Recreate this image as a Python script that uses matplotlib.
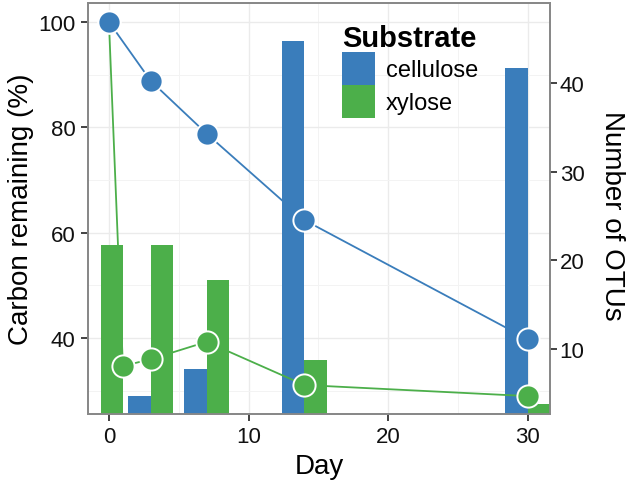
import matplotlib
matplotlib.use("Agg")
import matplotlib.pyplot as plt
from matplotlib.patches import Patch

plt.rcParams['font.family'] = ['Liberation Sans', 'DejaVu Sans']

BLUE = '#3a7dbb'
GREEN = '#4caf4a'

# --- carbon remaining (%), left axis
cell_days = [0, 3, 7, 14, 30]
cell_carbon = [100, 88.8, 78.8, 62.4, 39.8]
xyl_days = [0, 1, 3, 7, 14, 30]
xyl_carbon = [100, 34.7, 36.0, 39.3, 31.1, 29.0]

# --- number of OTUs, right axis
bar_days = [1, 3, 7, 14, 30]
cell_otus = [None, 4.75, 7.8, 44.7, 41.7]
xyl_otus = [21.7, 21.7, 17.8, 8.8, 3.8]

BAR_W = 1.6

fig = plt.figure(figsize=(6.3, 4.85), dpi=100)
ax = fig.add_axes([88 / 630, 1 - 415 / 485, 462 / 630, 411 / 485])
ax2 = ax.twinx()

# --- grid (from left axis)
ax.set_axisbelow(True)
ax.set_yticks([40, 60, 80, 100])
ax.set_yticks([30, 50, 70, 90], minor=True)
ax.set_xticks([0, 10, 20, 30])
ax.set_xticks([5, 15, 25], minor=True)
ax.grid(True, which='major', color='#ebebeb', lw=1.0)
ax.grid(True, which='minor', color='#f3f3f3', lw=0.7)

# --- bars: dodge, single bar goes into the first slot
for i, d in enumerate(bar_days):
    slot = 0
    for vals, col in ((cell_otus, BLUE), (xyl_otus, GREEN)):
        v = vals[i]
        if v is None:
            continue
        ax2.bar(d - BAR_W + slot * BAR_W, v, width=BAR_W, align='edge',
                color=col, lw=0, zorder=2)
        slot += 1

# --- lines + points drawn on top, in left-axis coords
ax2.plot(xyl_days, xyl_carbon, color=GREEN, lw=1.3, marker='o', ms=16,
         mfc=GREEN, mec='white', mew=1.4, transform=ax.transData, zorder=3,
         clip_on=False)
ax2.plot(cell_days, cell_carbon, color=BLUE, lw=1.3, marker='o', ms=16,
         mfc=BLUE, mec='white', mew=1.4, transform=ax.transData, zorder=4,
         clip_on=False)

ax.set_xlim(-1.5, 31.6)
ax.set_ylim(25.6, 103.6)
ax2.set_ylim(2.69, 48.98)
ax2.set_yticks([10, 20, 30, 40])

for a in (ax, ax2):
    for s in a.spines.values():
        s.set_color('#888888')
        s.set_linewidth(1.3)
    a.tick_params(which='major', length=5, width=1.2, color='#222222',
                  labelsize=16, labelcolor='#111111')
    a.tick_params(which='minor', length=0)
ax.tick_params(axis='y', pad=4)
ax.tick_params(axis='x', pad=4)
ax2.tick_params(axis='y', pad=2)

ax.set_xlabel('Day', fontsize=20, labelpad=4)
ax.set_ylabel('Carbon remaining (%)', fontsize=20, labelpad=3)
ax2.set_ylabel('Number of OTUs', fontsize=20, rotation=270)
ax2.yaxis.label.set_ha('center')
ax2.yaxis.label.set_va('center')
ax2.yaxis.set_label_coords((612 - 88) / 462, (415 - 216) / 411)

handles = [Patch(facecolor=BLUE, edgecolor='none', label='cellulose'),
           Patch(facecolor=GREEN, edgecolor='none', label='xylose')]
leg = ax2.legend(handles=handles, title='Substrate', loc='upper left',
                 bbox_to_anchor=(342 / 630, 1 - 25 / 485),
                 bbox_transform=fig.transFigure, frameon=False,
                 fontsize=17, title_fontproperties={'weight': 'bold', 'size': 21},
                 handlelength=1.4, handleheight=1.77, labelspacing=0.0,
                 handletextpad=0.45, borderpad=0, borderaxespad=0)
leg._legend_box.align = 'left'

fig.savefig('out.png', dpi=100)
